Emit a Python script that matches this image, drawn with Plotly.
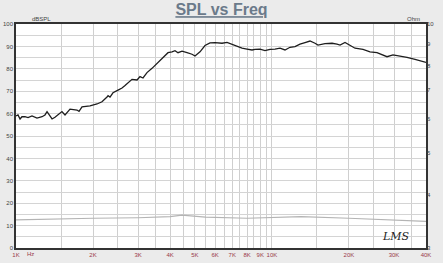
import plotly.graph_objects as go

# SPL response (Hz, dB)
spl_freq = [1000, 1018, 1037, 1055, 1084, 1114, 1155, 1208, 1264, 1298, 1322, 1383, 1420,
            1512, 1554, 1626, 1731, 1763, 1811, 1946, 2073, 2168, 2268, 2289, 2330, 2393,
            2504, 2596, 2667, 2740, 2840, 2971, 3052, 3135, 3250, 3400, 3556, 3753, 3926,
            4070, 4181, 4296, 4454, 4660, 4873, 5006, 5236, 5476, 5729, 5992, 6383, 6675,
            6983, 7304, 7641, 7991, 8359, 8590, 8983, 9397, 9829, 10280, 10755, 11248,
            11767, 12308, 12874, 13468, 14085, 14735, 15138, 16125, 17176, 17963, 18455,
            19305, 20194, 21121, 22697, 24170, 25741, 26922, 28167, 29725, 31660, 33715,
            36243, 40000]
spl_db = [59.0, 59.4, 57.6, 58.6, 58.6, 58.2, 59.0, 58.0, 58.6, 59.4, 60.9, 57.6, 58.4,
          60.9, 59.4, 62.0, 61.6, 61.0, 63.0, 63.4, 64.3, 65.3, 67.4, 68.0, 67.4, 69.3,
          70.5, 71.4, 72.5, 73.8, 75.3, 75.0, 76.5, 75.9, 78.3, 80.2, 82.4, 84.7, 87.2,
          87.6, 88.1, 87.2, 87.9, 87.2, 86.5, 85.7, 87.6, 90.4, 91.6, 91.7, 91.4, 91.8,
          91.0, 89.9, 89.2, 88.8, 88.4, 88.7, 88.8, 88.1, 88.7, 88.8, 89.2, 88.4,
          89.6, 89.9, 91.0, 91.7, 92.4, 91.4, 90.6, 91.2, 91.4, 91.0, 90.6,
          91.8, 90.6, 89.2, 88.7, 87.6, 87.2, 86.2, 85.4, 86.2, 85.8, 85.1,
          84.2, 82.9]

# Impedance (Hz, Ohm)
imp_freq = [1000, 1500, 2000, 3000, 4000, 4450, 5000, 5500, 8000, 10000, 13000, 20000, 40000]
imp_ohm = [3.49, 3.51, 3.52, 3.53, 3.55, 3.58, 3.55, 3.54, 3.52, 3.54, 3.55, 3.52, 3.46]

# Axis ticks
x_grid = [1000 + 500 * i for i in range(19)] + [15000, 20000, 25000, 30000, 35000, 40000]
x_labels = {1000: "1K", 2000: "2K", 3000: "3K", 4000: "4K", 5000: "5K", 6000: "6K",
            7000: "7K", 8000: "8K", 9000: "9K", 10000: "10K", 20000: "20K",
            30000: "30K", 40000: "40K"}
y_grid = list(range(0, 101, 5))
ohm_ticks = [3, 4, 5, 6, 7, 8, 9, 10]

fig = go.Figure()
fig.add_trace(go.Scatter(x=imp_freq, y=imp_ohm, mode="lines", yaxis="y2",
                         line=dict(color="#b4b4b4", width=1.2), showlegend=False))
fig.add_trace(go.Scatter(x=spl_freq, y=spl_db, mode="lines",
                         line=dict(color="#1e1e1e", width=1.3), showlegend=False))

tick_font = dict(family="Liberation Sans", size=6, color="#444444")

fig.update_layout(
    width=443, height=263,
    margin=dict(l=16, r=17, t=24, b=15),
    paper_bgcolor="#ebebeb", plot_bgcolor="#ffffff",
    title=dict(text="<b><u>SPL vs Freq</u></b>", x=0.5, xanchor="center", y=0.985, yanchor="top",
               font=dict(family="Liberation Sans", size=16, color="#6b7a8a")),
    xaxis=dict(type="log", range=[3, 4.60206], tickvals=x_grid,
               ticktext=[x_labels.get(v, "") for v in x_grid],
               tickfont=dict(family="Liberation Sans", size=6, color="#9a3a4a"),
               showgrid=True, gridcolor="#cfcfcf", gridwidth=1, automargin=False,
               showline=True, linecolor="#333333", linewidth=1.5, mirror=True,
               ticks="", ticklen=0, zeroline=False),
    yaxis=dict(range=[0, 100], tickvals=y_grid,
               ticktext=[str(v) if v % 10 == 0 else "" for v in y_grid],
               tickfont=tick_font, showgrid=True, gridcolor="#d4d4d4", gridwidth=1,
               showline=True, linecolor="#333333", linewidth=1.5, mirror=True,
               ticks="", zeroline=False, automargin=False),
    yaxis2=dict(type="log", range=[0.4771213, 1], overlaying="y", side="right",
                tickvals=ohm_ticks, ticktext=[str(v) for v in ohm_ticks],
                tickfont=tick_font, showgrid=False, zeroline=False, ticks="",
                automargin=False),
    annotations=[
        dict(text="dBSPL", xref="paper", yref="paper", x=0.035, y=1.0, xanchor="left",
             yanchor="bottom", showarrow=False, font=tick_font),
        dict(text="Ohm", xref="paper", yref="paper", x=0.99, y=1.0, xanchor="right",
             yanchor="bottom", showarrow=False, font=tick_font),
        dict(text="Hz", xref="paper", yref="paper", x=0.022, y=0, xanchor="left",
             yanchor="top", yshift=-1, showarrow=False,
             font=dict(family="Liberation Sans", size=6, color="#9a3a4a")),
        dict(text="<i>LMS</i>", xref="paper", yref="paper", x=0.965, y=0.015, xanchor="right",
             yanchor="bottom", showarrow=False,
             font=dict(family="DejaVu Serif", size=11, color="#222222")),
    ],
)

fig.write_html("out.html")
